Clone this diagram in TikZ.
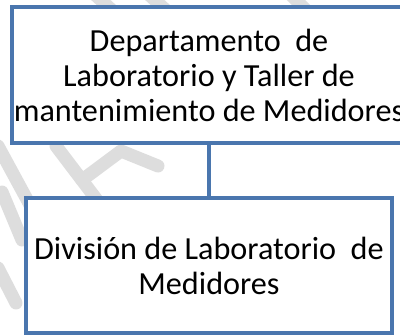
\documentclass[tikz,border=0pt]{standalone}
\usepackage{fontspec}
\setmainfont{Carlito}
\definecolor{boxblue}{RGB}{74,118,174}
\definecolor{wmgray}{RGB}{221,221,221}
\tikzset{
  orgbox/.style={draw=boxblue, line width=4pt, fill=white, align=center,
    inner sep=0pt, font=\fontsize{32.2pt}{35pt}\selectfont},
  link/.style={draw=boxblue, line width=4pt},
  wmark/.style={draw=wmgray, line width=13pt, line cap=round, line join=round}
}
\begin{document}
\begin{tikzpicture}[x=1pt,y=-1pt]
\useasboundingbox (0,0) rectangle (400,335);
\clip (0,0) rectangle (400,335);
\fill[white] (0,0) rectangle (400,335);
% faint watermark strokes
\draw[wmark] (92,-8) -- (114,12);
\draw[wmark] (146,-8) -- (168,12);
\draw[wmark] (288,-8) -- (308,12);
\draw[wmark] (-2,146) -- (30,205);
\draw[wmark] (56,146) -- (97,200);
\draw[wmark] (82,180) -- (121,151) -- (158,166);
\draw[wmark] (2,192) -- (22,240);
\draw[wmark] (-2,268) -- (16,303);
% top box (its right edge lies beyond the picture)
\draw[draw=boxblue, line width=4pt, fill=white] (12,7) rectangle (440,143);
\node[orgbox, draw=none, fill=none, minimum width=394pt, minimum height=136pt] (top) at (209,75)
  {Departamento\ \ de\\Laboratorio y Taller de\\mantenimiento de Medidores};
\node[orgbox, minimum width=366pt, minimum height=135pt] (bot) at (209,265.5)
  {División de Laboratorio\ \ de\\Medidores};
\draw[link] (top.south) -- (bot.north);
\end{tikzpicture}
\end{document}
